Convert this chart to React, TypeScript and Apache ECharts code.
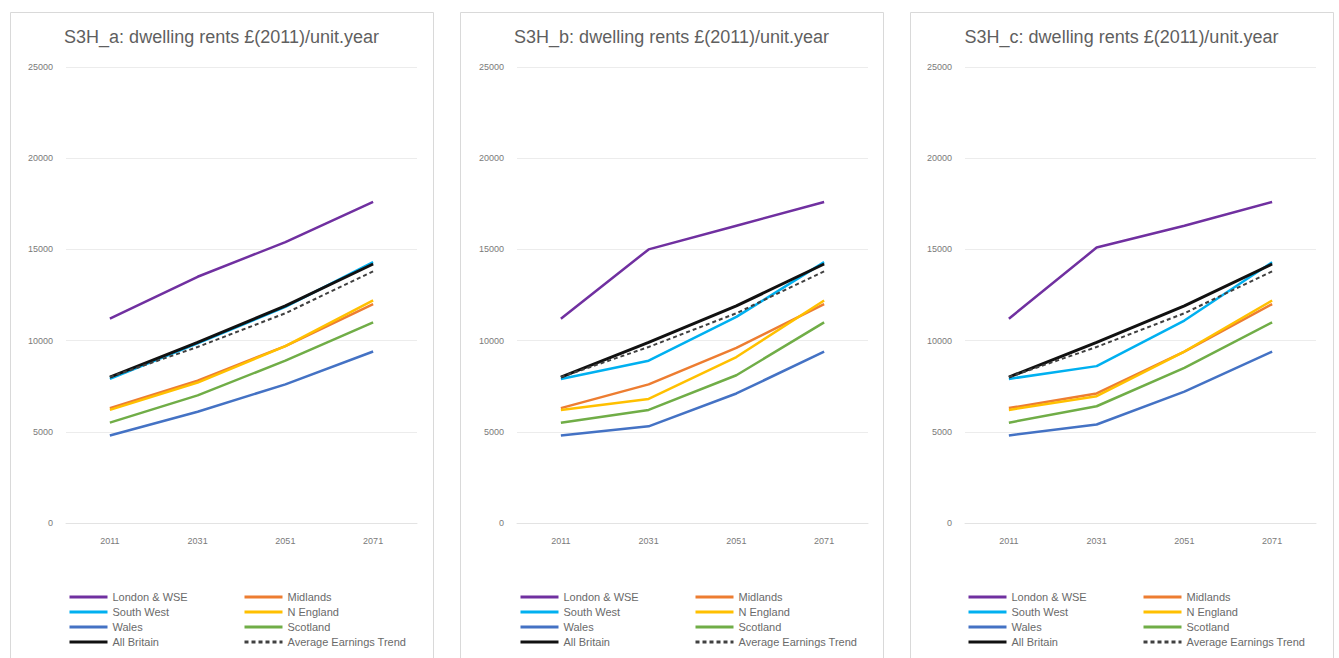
import React, { useEffect, useRef } from "react";
import * as echarts from "echarts";

// Projection years shown on each panel's category axis
const years = ["2011", "2031", "2051", "2071"];

const panelTitles = [
  "S3H_a: dwelling rents £(2011)/unit.year",
  "S3H_b: dwelling rents £(2011)/unit.year",
  "S3H_c: dwelling rents £(2011)/unit.year",
];

// Rents per region, one row per scenario (a, b, c)
const londonWse = [
  [11200, 13500, 15400, 17600],
  [11200, 15000, 16300, 17600],
  [11200, 15100, 16300, 17600],
];
const midlands = [
  [6300, 7800, 9700, 12000],
  [6300, 7600, 9600, 12000],
  [6300, 7100, 9400, 12000],
];
const southWest = [
  [7900, 9850, 11850, 14300],
  [7900, 8900, 11300, 14300],
  [7900, 8600, 11100, 14300],
];
const nEngland = [
  [6200, 7700, 9700, 12200],
  [6200, 6800, 9100, 12200],
  [6200, 6950, 9400, 12200],
];
const wales = [
  [4800, 6100, 7600, 9400],
  [4800, 5300, 7100, 9400],
  [4800, 5400, 7200, 9400],
];
const scotland = [
  [5500, 7000, 8900, 11000],
  [5500, 6200, 8100, 11000],
  [5500, 6400, 8500, 11000],
];
const allBritain = [
  [8000, 9900, 11900, 14200],
  [8000, 9900, 11900, 14200],
  [8000, 9900, 11900, 14200],
];
const earningsTrend = [
  [8000, 9650, 11500, 13800],
  [8000, 9650, 11500, 13800],
  [8000, 9650, 11500, 13800],
];

const yMax = 25000;
const yStep = 5000;

type SeriesDef = {
  name: string;
  data: number[][];
  color: string;
  width: number;
  dashed?: boolean;
};

const seriesDefs: SeriesDef[] = [
  { name: "London & WSE", data: londonWse, color: "#7030a0", width: 2.5 },
  { name: "Midlands", data: midlands, color: "#ed7d31", width: 2.5 },
  { name: "South West", data: southWest, color: "#00b0f0", width: 2.5 },
  { name: "N England", data: nEngland, color: "#ffc000", width: 2.5 },
  { name: "Wales", data: wales, color: "#4472c4", width: 2.5 },
  { name: "Scotland", data: scotland, color: "#70ad47", width: 2.5 },
  { name: "All Britain", data: allBritain, color: "#111111", width: 3 },
  { name: "Average Earnings Trend", data: earningsTrend, color: "#404040", width: 2, dashed: true },
];

const leftColumn = ["London & WSE", "South West", "Wales", "All Britain"];
const rightColumn = ["Midlands", "N England", "Scotland", "Average Earnings Trend"];

const FONT = "'Liberation Sans', Arial, sans-serif";

// Horizontal layout of the three panels
const panelLeft = [10, 460, 910];
const panelWidth = 423;
const gridOffset = [0, 451, 899];

export default function App() {
  const ref = useRef<HTMLDivElement>(null);

  useEffect(() => {
    if (!ref.current) return;
    const chart = echarts.init(ref.current, undefined, { renderer: "svg" });

    const grids: any[] = [];
    const xAxes: any[] = [];
    const yAxes: any[] = [];
    const titles: any[] = [];
    const legends: any[] = [];
    const series: any[] = [];
    const graphics: any[] = [];

    for (let p = 0; p < 3; p++) {
      const off = gridOffset[p];
      graphics.push({
        type: "rect",
        shape: { x: panelLeft[p] + 0.5, y: 12.5, width: panelWidth, height: 660 },
        style: { fill: "#ffffff", stroke: "#d9d9d9", lineWidth: 1 },
        z: -10,
        silent: true,
      });
      grids.push({ left: 66 + off, top: 67, width: 351, height: 456 });
      xAxes.push({
        type: "category",
        gridIndex: p,
        data: years,
        boundaryGap: true,
        axisTick: { show: false },
        axisLine: { show: true, lineStyle: { color: "#e3e3e3", width: 1 } },
        axisLabel: { color: "#7a7a7a", fontSize: 9, fontFamily: FONT, margin: 13 },
        splitLine: { show: false },
      });
      yAxes.push({
        type: "value",
        gridIndex: p,
        min: 0,
        max: yMax,
        interval: yStep,
        axisLine: { show: false },
        axisTick: { show: false },
        axisLabel: {
          color: "#7a7a7a",
          fontSize: 9,
          fontFamily: FONT,
          margin: 13,
          formatter: (v: number) => String(v),
        },
        splitLine: { show: true, lineStyle: { color: "#ececec", width: 1 } },
      });
      titles.push({
        text: panelTitles[p],
        left: panelLeft[p] + panelWidth / 2,
        top: 28,
        textAlign: "center",
        padding: 0,
        textStyle: { color: "#5f5f5f", fontSize: 18, fontWeight: "normal", fontFamily: FONT },
      });
      const legendBase = {
        orient: "vertical",
        top: 591,
        padding: 0,
        itemWidth: 38,
        itemHeight: 12,
        itemGap: 3,
        selectedMode: false,
        itemStyle: { opacity: 0 },
        lineStyle: { width: 3 },
        textStyle: { color: "#6a6a6a", fontSize: 11, lineHeight: 12, fontFamily: FONT },
      };
      legends.push({ ...legendBase, left: 68 + off, data: leftColumn });
      legends.push({ ...legendBase, left: 243 + off, data: rightColumn });

      for (const s of seriesDefs) {
        series.push({
          type: "line",
          name: s.name,
          xAxisIndex: p,
          yAxisIndex: p,
          data: s.data[p],
          symbol: "none",
          smooth: false,
          lineStyle: {
            color: s.color,
            width: s.width,
            type: s.dashed ? [4, 3] : "solid",
          },
          itemStyle: { color: s.color },
          emphasis: { disabled: true },
        });
      }
    }

    chart.setOption({
      animation: false,
      backgroundColor: "#ffffff",
      title: titles,
      legend: legends,
      grid: grids,
      xAxis: xAxes,
      yAxis: yAxes,
      series,
      graphic: graphics,
    });

    return () => chart.dispose();
  }, []);

  return (
    <div
      ref={ref}
      style={{ position: "fixed", left: 0, top: 0, width: 1339, height: 658 }}
    />
  );
}
